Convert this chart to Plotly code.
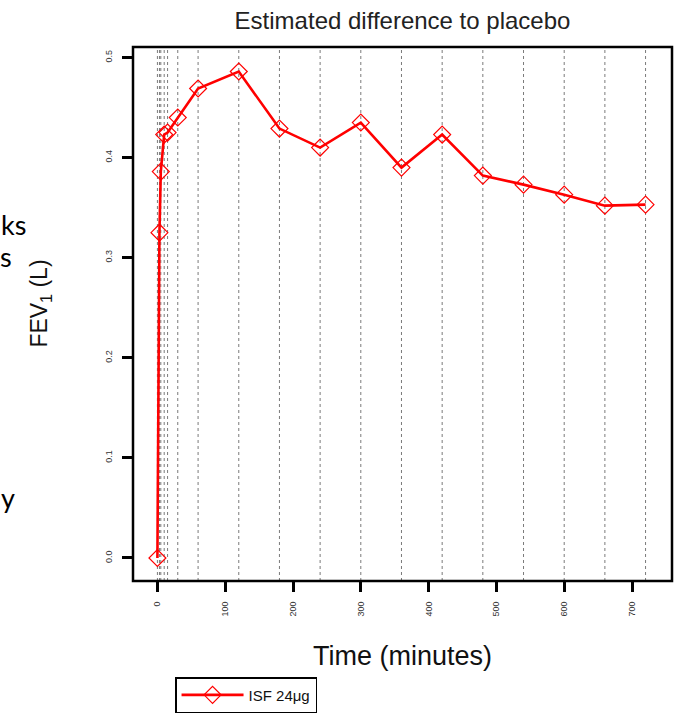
import plotly.graph_objects as go

# Estimated FEV1 difference to placebo over 12 hours
time_min = [0, 3, 5, 10, 15, 30, 60, 120, 180, 240, 300, 360, 420, 480, 540, 600, 660, 720]
diff_l = [0.000, 0.325, 0.386, 0.423, 0.425, 0.440, 0.469, 0.486, 0.429, 0.410,
          0.435, 0.390, 0.423, 0.382, 0.373, 0.363, 0.352, 0.353]
series_name = "ISF 24\u03bcg"

x_ticks = [0, 100, 200, 300, 400, 500, 600, 700]
y_ticks = [0.0, 0.1, 0.2, 0.3, 0.4, 0.5]

# text fragments on the left edge of the slide
side_text = ["ks", "s", "y"]

FONT = "Liberation Sans, Arial, Helvetica, sans-serif"

fig = go.Figure()

# dotted reference line at every measurement time
for t in time_min:
    fig.add_vline(x=t, line=dict(color="#7a7a7a", width=1, dash="3px,3px"), layer="below")

fig.add_trace(go.Scatter(
    x=time_min, y=diff_l, mode="lines+markers", name=series_name,
    line=dict(color="#ff0000", width=2.6),
    marker=dict(symbol="diamond-open", size=13, color="#ff0000", line=dict(width=1.2, color="#ff0000")),
    showlegend=True,
))

# plot frame
fig.add_shape(type="rect", xref="paper", yref="paper", x0=0, y0=0, x1=1, y1=1,
              line=dict(color="black", width=2.5), layer="above")

fig.update_layout(
    width=680, height=721,
    margin=dict(l=133, r=8, t=47, b=135),
    paper_bgcolor="white", plot_bgcolor="white",
    font=dict(family=FONT, color="#111"),
    title=dict(text="Estimated difference to placebo", x=0.5, xref="paper", xanchor="center",
               y=0.972, yref="container", yanchor="middle",
               font=dict(size=24, family=FONT, color="#222")),
    showlegend=True,
    legend=dict(x=0.078, y=-0.18, xanchor="left", yanchor="top", xref="paper", yref="paper",
                bordercolor="black", borderwidth=1.5, bgcolor="white",
                font=dict(size=15, family=FONT, color="#111"), itemwidth=62),
)

fig.update_xaxes(range=[-36, 759], tickvals=x_ticks, ticktext=[str(v) for v in x_ticks],
                 tickangle=-90, ticks="outside", ticklen=10, tickwidth=2.5, tickcolor="black",
                 ticklabelstandoff=6,
                 tickfont=dict(size=9, color="#333"), showgrid=False, zeroline=False, showline=False)
fig.update_yaxes(range=[-0.023, 0.5105], tickvals=y_ticks, ticktext=[f"{v:.1f}" for v in y_ticks],
                 tickangle=-90, ticks="outside", ticklen=10, tickwidth=2.5, tickcolor="black",
                 ticklabelstandoff=6,
                 tickfont=dict(size=9, color="#333"), showgrid=False, zeroline=False, showline=False)

# axis titles
fig.add_annotation(text="Time (minutes)", xref="paper", yref="paper", x=0.5, y=-0.14,
                   xanchor="center", yanchor="middle", showarrow=False,
                   font=dict(size=27, family=FONT, color="#111"))
fig.add_annotation(text="FEV<sub>1</sub> (L)", xref="paper", yref="paper", x=-0.172, y=0.52,
                   xanchor="center", yanchor="middle", textangle=-90, showarrow=False,
                   font=dict(size=23, family=FONT, color="#111"))

# slide text cut off at the left edge
side_pos = [(-0.249, 0.667), (-0.251, 0.608), (-0.249, 0.157)]
for txt, (px, py) in zip(side_text, side_pos):
    fig.add_annotation(text=txt, xref="paper", yref="paper", x=px, y=py,
                       xanchor="left", yanchor="middle", showarrow=False,
                       font=dict(size=27, family="Lato, Open Sans, sans-serif", color="#000"))

fig.write_html("out.html")
